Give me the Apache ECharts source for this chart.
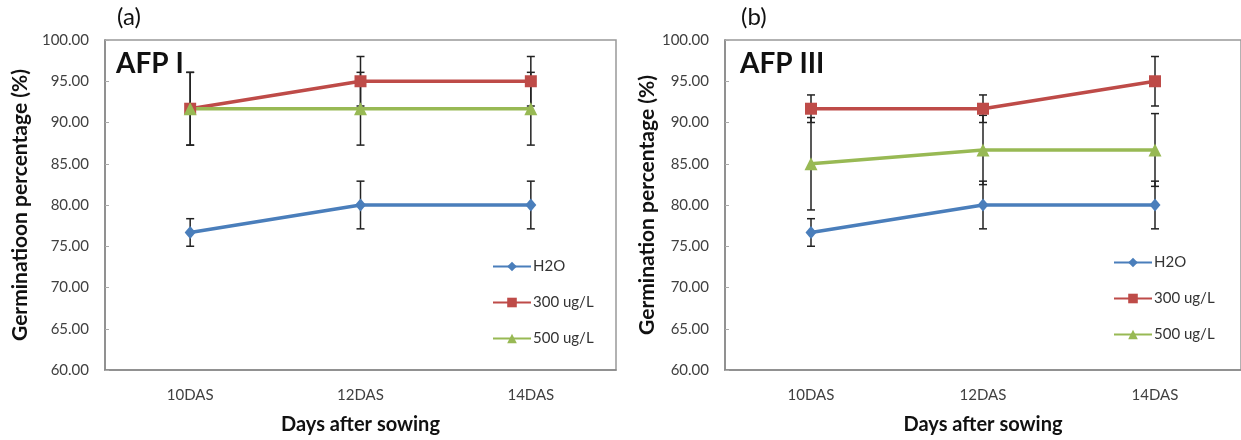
<!DOCTYPE html>
<html>
<head>
<meta charset="utf-8">
<script src="https://cdn.jsdelivr.net/npm/echarts@6/dist/echarts.min.js"></script>
<style>
html,body{margin:0;padding:0;background:#fff;}
#c{width:1241px;height:440px;}
</style>
</head>
<body>
<div id="c"></div>
<script>
const categories = ['10DAS', '12DAS', '14DAS'];
const seriesNames = ['H2O', '300 ug/L', '500 ug/L'];
const yTicks = [60, 65, 70, 75, 80, 85, 90, 95, 100];

// Panel (a) AFP I
const h2oA = [76.67, 80.00, 80.00];
const errH2oA = [1.67, 2.89, 2.89];
const s300A = [91.67, 95.00, 95.00];
const err300A = [4.41, 3.00, 3.00];
const s500A = [91.67, 91.67, 91.67];
const err500A = [4.41, 4.41, 4.41];

// Panel (b) AFP III
const h2oB = [76.67, 80.00, 80.00];
const errH2oB = [1.67, 2.89, 2.89];
const s300B = [91.67, 91.67, 95.00];
const err300B = [1.67, 1.67, 3.00];
const s500B = [85.00, 86.67, 86.67];
const err500B = [5.60, 4.20, 4.41];

const colors = ['#4A7EBB', '#BE4B48', '#98B954'];
const symbols = ['diamond', 'rect', 'triangle'];
const symbolSizes = [[11, 13], 12, 13];
const FONT = 'Lato';

const chart = echarts.init(document.getElementById('c'), null, {renderer: 'canvas'});

function errData(vals, errs) {
  return vals.map((v, i) => [i, v - errs[i], v + errs[i]]);
}

function errSeries(idx, vals, errs) {
  return {
    type: 'custom',
    xAxisIndex: idx, yAxisIndex: idx,
    z: 1,
    silent: true,
    data: errData(vals, errs),
    renderItem: function (params, api) {
      const x = api.value(0);
      const lo = api.coord([x, api.value(1)]);
      const hi = api.coord([x, api.value(2)]);
      const hw = 4;
      const st = {stroke: '#222', lineWidth: 1.5};
      return {
        type: 'group',
        children: [
          {type: 'line', shape: {x1: lo[0], y1: lo[1], x2: hi[0], y2: hi[1]}, style: st},
          {type: 'line', shape: {x1: lo[0] - hw, y1: lo[1], x2: lo[0] + hw, y2: lo[1]}, style: st},
          {type: 'line', shape: {x1: hi[0] - hw, y1: hi[1], x2: hi[0] + hw, y2: hi[1]}, style: st}
        ]
      };
    }
  };
}

function lineSeries(idx, k, vals) {
  return {
    type: 'line',
    name: seriesNames[k],
    xAxisIndex: idx, yAxisIndex: idx,
    data: vals,
    z: 3,
    symbol: symbols[k],
    symbolSize: symbolSizes[k],
    showAllSymbol: true,
    color: colors[k],
    lineStyle: {width: 3.5, color: colors[k]},
    itemStyle: {color: colors[k]},
    emphasis: {disabled: true},
    animation: false
  };
}

const grids = [
  {left: 105, top: 40, width: 511, height: 330},
  {left: 725, top: 40, width: 520, height: 330}
];

function xAx(i) {
  return {
    type: 'category', gridIndex: i, data: categories, boundaryGap: true,
    axisLine: {lineStyle: {color: '#868686', width: 1.5}},
    axisTick: {inside: true, length: 5, lineStyle: {color: '#868686'}},
    axisLabel: {fontFamily: FONT, fontSize: 15, color: '#404040', margin: 18},
    name: 'Days after sowing', nameLocation: 'middle', nameGap: 45,
    nameTextStyle: {fontFamily: FONT, fontSize: 20, fontWeight: 'bold', color: '#111'},
    splitLine: {show: false}
  };
}
function yAx(i, nm, gap) {
  return {
    type: 'value', gridIndex: i, min: 60, max: 100, interval: 5,
    axisLine: {show: true, lineStyle: {color: '#868686', width: 1.5}},
    axisTick: {show: true, inside: true, length: 4, lineStyle: {color: '#aaa'}},
    axisLabel: {fontFamily: FONT, fontSize: 15, color: '#404040', margin: 16,
      formatter: v => yTicks.indexOf(v) >= 0 ? v.toFixed(2) : ''},
    splitLine: {show: false},
    name: nm, nameLocation: 'middle', nameGap: gap,
    nameTextStyle: {fontFamily: FONT, fontSize: 21, fontWeight: 'bold', color: '#111'}
  };
}

const legendCommon = {
  orient: 'vertical', itemWidth: 38, itemHeight: 12, itemGap: 21,
  textStyle: {fontFamily: FONT, fontSize: 15, color: '#333', padding: [0, 0, 0, -3]},
  data: seriesNames, selectedMode: false
};

const option = {
  animation: false,
  backgroundColor: '#fff',
  grid: grids.map(g => Object.assign({show: true, borderColor: '#999', borderWidth: 1.5, backgroundColor: 'transparent'}, g)),
  xAxis: [xAx(0), xAx(1)],
  yAxis: [yAx(0, 'Germinatioon percentage (%)', 74), yAx(1, 'Germination percentage (%)', 66)],
  legend: [
    Object.assign({left: 487, top: 254}, legendCommon),
    Object.assign({left: 1108, top: 250}, legendCommon)
  ],
  graphic: [
    {type: 'text', left: 117, top: 5, style: {text: '(a)', font: '24px ' + FONT, fill: '#111'}},
    {type: 'text', left: 741, top: 5, style: {text: '(b)', font: '24px ' + FONT, fill: '#111'}},
    {type: 'text', left: 116, top: 50, style: {text: 'AFP I', font: 'bold 28px ' + FONT, fill: '#111'}},
    {type: 'text', left: 740, top: 50, style: {text: 'AFP III', font: 'bold 28px ' + FONT, fill: '#111'}}
  ],
  series: [
    errSeries(0, h2oA, errH2oA), errSeries(0, s300A, err300A), errSeries(0, s500A, err500A),
    lineSeries(0, 0, h2oA), lineSeries(0, 1, s300A), lineSeries(0, 2, s500A),
    errSeries(1, h2oB, errH2oB), errSeries(1, s300B, err300B), errSeries(1, s500B, err500B),
    lineSeries(1, 0, h2oB), lineSeries(1, 1, s300B), lineSeries(1, 2, s500B)
  ]
};
chart.setOption(option);
</script>
</body>
</html>
